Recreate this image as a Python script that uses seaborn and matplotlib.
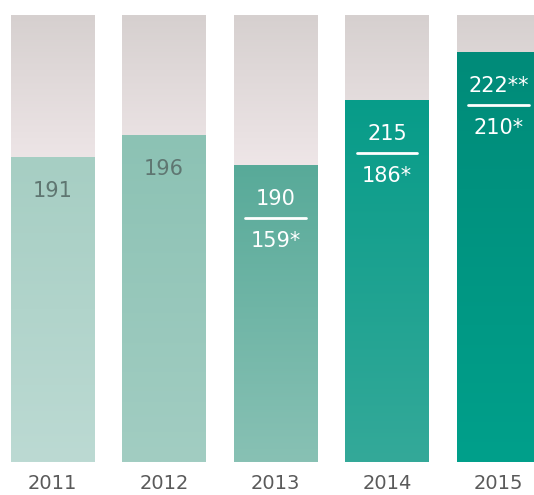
import numpy as np
import matplotlib
matplotlib.use("Agg")
import matplotlib.pyplot as plt
import seaborn as sns
from matplotlib.colors import LinearSegmentedColormap

# data
years = ['2011', '2012', '2013', '2014', '2015']
bar_height = [68.2, 73.1, 66.4, 80.9, 91.6]   # filled part, % of the full column
full_height = [100, 100, 100, 100, 100]
top_labels = ['191', '196', '190', '215', '222**']
bottom_labels = ['', '', '159*', '186*', '210*']

# colours for the gradients
bar_colors = [('#a6cec3', '#bcdad3'),
              ('#8cc2b4', '#a2cdc2'),
              ('#58aa99', '#88c1b4'),
              ('#079c89', '#34a999'),
              ('#008b79', '#01a08b')]
label_colors = ['#5f7671', '#5f7671', 'white', 'white', 'white']

sns.set_style('white')
plt.rcParams['font.family'] = ['DejaVu Sans']

fig = plt.figure(figsize=(5.34, 4.95), dpi=100)
ax = fig.add_axes([0, 0.0667, 1, 0.904])

sns.barplot(x=years, y=full_height, order=years, width=0.745, ax=ax)
n_bg = len(ax.patches)
sns.barplot(x=years, y=bar_height, order=years, width=0.745, ax=ax)


def fill_gradient(patch, cmap, z):
    x0, y0 = patch.get_x(), patch.get_y()
    w, h = patch.get_width(), patch.get_height()
    grad = np.linspace(0, 1, 256).reshape(-1, 1)
    im = ax.imshow(grad, cmap=cmap, extent=[x0, x0 + w, y0, y0 + h],
                   origin='lower', aspect='auto', zorder=z, interpolation='bilinear')
    im.set_clip_path(patch)
    patch.set_facecolor('none')
    patch.set_edgecolor('none')


bg_cmap = LinearSegmentedColormap.from_list(
    'bg', [(0, '#f3eaec'), (0.6, '#f3eaec'), (1, '#d6d0cf')])
for p in ax.patches[:n_bg]:
    fill_gradient(p, bg_cmap, 1)
for p, (ct, cb) in zip(ax.patches[n_bg:], bar_colors):
    fill_gradient(p, LinearSegmentedColormap.from_list('g', [cb, ct]), 2)

# value labels
for i, (h, t, b, c) in enumerate(zip(bar_height, top_labels, bottom_labels, label_colors)):
    ax.annotate(t, (i, h), xytext=(0, -24.5), textcoords='offset points',
                ha='center', va='center', fontsize=15, color=c, zorder=5)
    if b:
        ax.plot([i - 0.27, i + 0.27], [h - 11.9, h - 11.9], color=c, lw=2, zorder=5)
        ax.annotate(b, (i, h), xytext=(0, -55), textcoords='offset points',
                    ha='center', va='center', fontsize=15, color=c, zorder=5)

ax.set_xlim(-0.471, 4.318)
ax.set_ylim(0, 100)
ax.set_yticks([])
ax.set_xlabel('')
ax.set_ylabel('')
ax.tick_params(axis='x', length=0, pad=9, labelsize=14, labelcolor='#5a5a5a')
sns.despine(ax=ax, left=True, bottom=True)

fig.savefig('out.png', dpi=100)
